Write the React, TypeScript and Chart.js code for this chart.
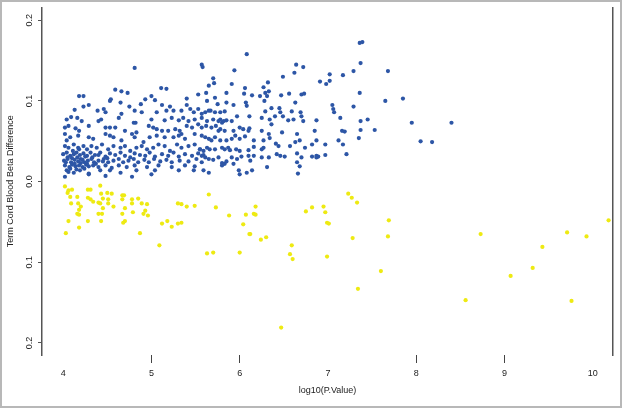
import React, { useEffect, useRef } from "react";
import { Chart, registerables } from "chart.js";

Chart.register(...registerables);

const xTicks = [4, 5, 6, 7, 8, 9, 10];
const xTicksWithMarks = [5, 6, 8, 9];
const yTicks = [-0.2, -0.1, 0, 0.1, 0.2];
const xTitle = "log10(P.Value)";
const yTitle = "Term Cord Blood Beta Difference";
const xRange = [3.76, 10.23];
const yRange = [-0.215, 0.216];

// Hypermethylated / positive beta difference (blue)
const bluePoints: [number, number][] = [
  [4.81, 0.141], [5.57, 0.145], [5.58, 0.142], [4.59, 0.114], [4.66, 0.112], [4.73, 0.110], [5.11, 0.116], [5.17, 0.115],
  [4.18, 0.106], [4.23, 0.106], [5.00, 0.106], [4.93, 0.102], [5.04, 0.101], [5.40, 0.103], [5.53, 0.108], [4.29, 0.095],
  [4.23, 0.093], [4.54, 0.102], [4.53, 0.100], [4.65, 0.098], [4.75, 0.093], [4.88, 0.096], [4.81, 0.088], [5.12, 0.095],
  [5.21, 0.093], [5.40, 0.095], [5.44, 0.090], [5.53, 0.090], [4.13, 0.089], [4.39, 0.088], [4.46, 0.090], [4.48, 0.086],
  [4.66, 0.084], [4.89, 0.086], [5.06, 0.086], [5.17, 0.088], [5.25, 0.088], [5.34, 0.088], [5.48, 0.086],
  [4.04, 0.077], [4.09, 0.080], [4.16, 0.079], [4.21, 0.075], [4.40, 0.075], [4.43, 0.077], [4.63, 0.079], [4.80, 0.073],
  [4.82, 0.073], [5.00, 0.077], [5.15, 0.076], [5.23, 0.079], [5.31, 0.076], [5.36, 0.079], [5.42, 0.075], [5.49, 0.077],
  [5.57, 0.079], [4.02, 0.067], [4.06, 0.069], [4.14, 0.066], [4.18, 0.063], [4.29, 0.069], [4.48, 0.067], [4.53, 0.067],
  [4.59, 0.067], [4.70, 0.063], [4.78, 0.059], [4.83, 0.061], [4.97, 0.069], [5.02, 0.067], [5.06, 0.065], [5.12, 0.063],
  [5.19, 0.063], [5.27, 0.065], [5.32, 0.063], [5.40, 0.069], [5.46, 0.067], [5.53, 0.071],
  [4.02, 0.059], [4.08, 0.055], [4.04, 0.051], [4.17, 0.057], [4.29, 0.055], [4.34, 0.053], [4.48, 0.059], [4.53, 0.057],
  [4.57, 0.055], [4.66, 0.051], [4.81, 0.055], [4.91, 0.049], [4.98, 0.055], [5.06, 0.057], [5.15, 0.055], [5.25, 0.055],
  [5.31, 0.057], [5.34, 0.059], [5.38, 0.053], [5.49, 0.059], [5.57, 0.057],
  [4.02, 0.044], [4.06, 0.042], [4.12, 0.046], [4.17, 0.042], [4.23, 0.044], [4.27, 0.040], [4.32, 0.044], [4.38, 0.042],
  [4.44, 0.046], [4.51, 0.040], [4.57, 0.044], [4.65, 0.042], [4.70, 0.044], [4.76, 0.038], [4.83, 0.042], [4.89, 0.044],
  [4.95, 0.040], [5.02, 0.042], [5.08, 0.046], [5.15, 0.044], [5.21, 0.038], [5.29, 0.046], [5.34, 0.042], [5.42, 0.044],
  [5.49, 0.046], [5.55, 0.040],
  [4.00, 0.034], [4.04, 0.036], [4.08, 0.032], [4.12, 0.034], [4.15, 0.036], [4.19, 0.033], [4.23, 0.035], [4.27, 0.032],
  [4.31, 0.036], [4.36, 0.033], [4.42, 0.036], [4.48, 0.031], [4.53, 0.035], [4.59, 0.033], [4.65, 0.036], [4.70, 0.032],
  [4.76, 0.030], [4.81, 0.035], [4.87, 0.033], [4.93, 0.032], [4.98, 0.036], [5.04, 0.031], [5.12, 0.034], [5.19, 0.032],
  [5.25, 0.036], [5.31, 0.031], [5.38, 0.034], [5.46, 0.032], [5.53, 0.035], [5.59, 0.033],
  [4.01, 0.026], [4.05, 0.028], [4.09, 0.024], [4.13, 0.027], [4.17, 0.025], [4.20, 0.028], [4.24, 0.024], [4.28, 0.026],
  [4.32, 0.028], [4.35, 0.024], [4.40, 0.026], [4.46, 0.028], [4.51, 0.024], [4.57, 0.026], [4.63, 0.028], [4.68, 0.024],
  [4.74, 0.026], [4.80, 0.028], [4.85, 0.024], [4.92, 0.027], [4.97, 0.024], [5.03, 0.028], [5.10, 0.025], [5.17, 0.027],
  [5.23, 0.024], [5.32, 0.026], [5.42, 0.025], [5.51, 0.028], [5.57, 0.024],
  [4.02, 0.020], [4.07, 0.018], [4.10, 0.021], [4.14, 0.019], [4.18, 0.020], [4.22, 0.018], [4.26, 0.021], [4.29, 0.019],
  [4.34, 0.020], [4.40, 0.018], [4.48, 0.020], [4.55, 0.017], [4.63, 0.020], [4.72, 0.018], [4.81, 0.020], [4.95, 0.018],
  [5.08, 0.020], [5.23, 0.018], [5.38, 0.020], [5.49, 0.019],
  [4.04, 0.014], [4.12, 0.011], [4.19, 0.014], [4.29, 0.010], [4.42, 0.014], [4.53, 0.014], [4.65, 0.011], [4.83, 0.014],
  [5.04, 0.014], [5.31, 0.014], [5.48, 0.014], [4.02, 0.006], [4.29, 0.009], [4.48, 0.007], [4.78, 0.006], [5.00, 0.009],
  [4.05, 0.030], [4.10, 0.029], [4.13, 0.022], [4.20, 0.023], [4.25, 0.031], [4.08, 0.016], [4.16, 0.030], [4.22, 0.027],
  [4.11, 0.038], [4.18, 0.040], [4.27, 0.022], [4.03, 0.024], [4.06, 0.012], [4.15, 0.015], [4.24, 0.016], [4.33, 0.030],
  [4.37, 0.022], [4.45, 0.025], [4.40, 0.033], [4.50, 0.029],
  [6.08, 0.158], [6.64, 0.145], [6.72, 0.142], [6.62, 0.135], [6.49, 0.130], [7.02, 0.133], [7.17, 0.132], [5.94, 0.138],
  [6.91, 0.124], [6.98, 0.121], [7.02, 0.125], [5.70, 0.128], [5.71, 0.122], [5.65, 0.119], [5.91, 0.121], [6.06, 0.116],
  [6.05, 0.109], [6.14, 0.107], [6.27, 0.117], [6.32, 0.123], [6.29, 0.110], [6.23, 0.106], [6.31, 0.106], [6.28, 0.100],
  [6.33, 0.112], [6.47, 0.107], [6.56, 0.109], [6.70, 0.108], [6.73, 0.109],
  [5.62, 0.110], [5.63, 0.100], [5.72, 0.104], [5.85, 0.110], [5.85, 0.098], [5.75, 0.096], [5.93, 0.095], [6.07, 0.098],
  [6.08, 0.094], [6.29, 0.087], [6.36, 0.091], [6.45, 0.091], [6.46, 0.086], [6.49, 0.081], [6.59, 0.087], [6.63, 0.098],
  [6.69, 0.086], [6.70, 0.081], [7.05, 0.095], [7.06, 0.090], [7.07, 0.086],
  [5.57, 0.084], [5.61, 0.086], [5.65, 0.088], [5.67, 0.088], [5.72, 0.086], [5.78, 0.086], [5.83, 0.087],
  [5.63, 0.075], [5.70, 0.077], [5.76, 0.075], [5.78, 0.077], [5.80, 0.073], [5.82, 0.075], [5.85, 0.076], [5.91, 0.075],
  [5.97, 0.081], [6.11, 0.081], [6.25, 0.079], [6.34, 0.077], [6.40, 0.081], [6.55, 0.076], [6.61, 0.077], [6.72, 0.075],
  [6.87, 0.076], [7.14, 0.079],
  [5.57, 0.067], [5.62, 0.069], [5.68, 0.067], [5.73, 0.069], [5.76, 0.063], [5.78, 0.065], [5.83, 0.063], [5.93, 0.063],
  [6.00, 0.067], [6.04, 0.065], [6.10, 0.063], [6.11, 0.066], [6.25, 0.063], [6.33, 0.059], [6.36, 0.071], [6.48, 0.061],
  [6.65, 0.059], [6.85, 0.063], [7.16, 0.063], [7.19, 0.062],
  [5.61, 0.055], [5.65, 0.053], [5.68, 0.051], [5.72, 0.055], [5.78, 0.051], [5.85, 0.051], [5.91, 0.053], [5.95, 0.057],
  [6.00, 0.053], [6.06, 0.056], [6.16, 0.051], [6.27, 0.051], [6.34, 0.054], [6.41, 0.047], [6.44, 0.044], [6.57, 0.044],
  [6.63, 0.049], [6.68, 0.051], [6.74, 0.042], [6.82, 0.046], [6.87, 0.051], [6.97, 0.046], [7.12, 0.051], [7.17, 0.046],
  [5.55, 0.040], [5.59, 0.038], [5.63, 0.042], [5.66, 0.040], [5.72, 0.040], [5.80, 0.042], [5.83, 0.040], [5.87, 0.042],
  [5.89, 0.039], [5.96, 0.040], [6.00, 0.038], [6.10, 0.039], [6.16, 0.043], [6.25, 0.040], [6.27, 0.042], [6.42, 0.034],
  [6.46, 0.032], [6.65, 0.035], [6.70, 0.030], [6.82, 0.031], [6.87, 0.032], [6.89, 0.031], [6.97, 0.033], [7.21, 0.034],
  [5.57, 0.032], [5.61, 0.030], [5.65, 0.028], [5.70, 0.027], [5.76, 0.030], [5.80, 0.023], [5.83, 0.022], [5.85, 0.025],
  [5.91, 0.030], [5.97, 0.028], [6.02, 0.031], [6.10, 0.032], [6.12, 0.026], [6.16, 0.032], [6.25, 0.030], [6.33, 0.030],
  [6.51, 0.031], [6.65, 0.024], [6.68, 0.019], [6.87, 0.030],
  [5.59, 0.014], [5.65, 0.011], [5.80, 0.020], [5.93, 0.022], [6.00, 0.009], [6.08, 0.011], [6.14, 0.014], [6.31, 0.018],
  [6.66, 0.010], [5.99, 0.014],
  [7.36, 0.172], [7.39, 0.173], [7.37, 0.147], [7.29, 0.137], [7.68, 0.137], [7.36, 0.110], [7.65, 0.100], [7.85, 0.103],
  [7.29, 0.093], [7.37, 0.075], [7.45, 0.077], [7.95, 0.073], [8.40, 0.073], [7.37, 0.064], [7.53, 0.064], [8.05, 0.050],
  [8.18, 0.049], [7.35, 0.054],
];

// Negative beta difference (yellow)
const yellowPoints: [number, number][] = [
  [4.02, -0.006], [4.05, -0.014], [4.06, -0.011], [4.10, -0.010], [4.08, -0.019], [4.09, -0.027], [4.06, -0.049], [4.03, -0.064],
  [4.16, -0.019], [4.17, -0.027], [4.20, -0.031], [4.18, -0.035], [4.16, -0.040], [4.18, -0.041], [4.18, -0.057], [4.28, -0.010],
  [4.31, -0.010], [4.28, -0.020], [4.31, -0.022], [4.34, -0.025], [4.40, -0.026], [4.42, -0.005], [4.43, -0.015], [4.50, -0.014],
  [4.55, -0.015], [4.45, -0.021], [4.51, -0.022], [4.51, -0.027], [4.42, -0.027], [4.45, -0.033], [4.40, -0.040], [4.44, -0.040],
  [4.28, -0.049], [4.43, -0.049], [4.57, -0.031], [4.67, -0.017], [4.69, -0.017], [4.67, -0.022], [4.78, -0.022], [4.85, -0.021],
  [4.78, -0.027], [4.89, -0.027], [4.95, -0.028], [4.70, -0.033], [4.67, -0.040], [4.79, -0.038], [4.93, -0.036], [4.91, -0.040],
  [4.96, -0.042], [4.70, -0.049], [4.68, -0.051], [4.87, -0.064], [5.12, -0.052], [5.18, -0.049], [5.23, -0.056], [5.30, -0.027],
  [5.34, -0.028], [5.40, -0.031], [5.30, -0.052], [5.34, -0.051], [5.49, -0.030], [5.09, -0.079], [5.65, -0.016], [5.73, -0.032],
  [5.63, -0.089], [5.70, -0.088], [5.88, -0.042], [6.07, -0.041], [6.04, -0.053], [6.11, -0.065], [6.00, -0.088], [6.16, -0.040],
  [6.18, -0.031], [6.18, -0.041], [6.12, -0.065], [6.24, -0.072], [6.30, -0.069], [6.59, -0.079], [6.57, -0.090], [6.60, -0.096],
  [6.75, -0.037], [6.82, -0.032], [6.95, -0.031], [6.97, -0.038], [6.99, -0.051], [7.01, -0.052], [6.99, -0.093], [7.23, -0.015],
  [7.27, -0.020], [7.33, -0.026], [7.28, -0.070], [7.69, -0.048], [7.68, -0.068], [7.60, -0.111], [7.34, -0.133], [6.47, -0.181],
  [8.73, -0.065], [8.56, -0.147], [9.07, -0.117], [9.32, -0.107], [9.43, -0.081], [9.71, -0.063], [9.93, -0.068], [10.18, -0.048],
  [9.76, -0.148],
];

const FONT = "'Liberation Sans', Arial, Helvetica, sans-serif";

const framePlugin = {
  id: "frame",
  beforeDraw(chart: any) {
    const { ctx, width, height } = chart;
    ctx.save();
    ctx.fillStyle = "#ffffff";
    ctx.fillRect(0, 0, width, height);
    ctx.restore();
  },
  afterDraw(chart: any) {
    const { ctx, width, height } = chart;
    ctx.save();
    ctx.strokeStyle = "#b8b8b8";
    ctx.lineWidth = 2;
    ctx.strokeRect(1, 1, width - 2, height - 2);
    ctx.restore();
  },
};

export default function App() {
  const ref = useRef<HTMLCanvasElement>(null);

  useEffect(() => {
    if (!ref.current) return;
    const chart = new Chart(ref.current, {
      type: "scatter",
      data: {
        datasets: [
          {
            label: "positive",
            data: bluePoints.map(([x, y]) => ({ x, y })),
            backgroundColor: "#2d56a6",
            borderWidth: 0,
            pointRadius: 2.1,
          },
          {
            label: "negative",
            data: yellowPoints.map(([x, y]) => ({ x, y })),
            backgroundColor: "#eeea12",
            borderWidth: 0,
            pointRadius: 2.1,
          },
        ],
      },
      options: {
        animation: false,
        responsive: false,
        maintainAspectRatio: false,
        devicePixelRatio: 1,
        layout: { padding: { top: 6, right: 9, left: 0, bottom: 0 } },
        plugins: {
          legend: { display: false },
          tooltip: { enabled: false },
        },
        scales: {
          x: {
            type: "linear",
            position: "bottom",
            min: xRange[0],
            max: xRange[1],
            afterBuildTicks: (s: any) => {
              s.ticks = xTicks.map((v) => ({ value: v }));
            },
            afterFit: (s: any) => {
              s.height = 53;
            },
            border: { display: false },
            grid: {
              display: true,
              drawOnChartArea: false,
              drawTicks: true,
              tickLength: 8,
              lineWidth: 1,
              color: (c: any) =>
                c.tick && xTicksWithMarks.includes(c.tick.value) ? "#444444" : "rgba(0,0,0,0)",
            },
            ticks: {
              autoSkip: false,
              maxRotation: 0,
              padding: 5,
              color: "#222222",
              font: { family: FONT, size: 9 },
              callback: (v: any) => String(v),
            },
            title: {
              display: true,
              text: xTitle,
              color: "#222222",
              font: { family: FONT, size: 9 },
              padding: { top: 0, bottom: 12.5 },
            },
          },
          y: {
            type: "linear",
            position: "left",
            min: yRange[0],
            max: yRange[1],
            afterBuildTicks: (s: any) => {
              s.ticks = yTicks.map((v) => ({ value: v }));
            },
            afterFit: (s: any) => {
              s.width = 42;
            },
            border: { display: true, color: "#555555", width: 1.5 },
            grid: {
              display: true,
              drawOnChartArea: false,
              drawTicks: true,
              tickLength: 4,
              color: "#555555",
              lineWidth: 1,
            },
            ticks: {
              minRotation: 90,
              maxRotation: 90,
              crossAlign: "center",
              padding: 2,
              color: "#222222",
              font: { family: FONT, size: 9 },
              callback: (v: any) => Math.abs(Number(v)).toFixed(1),
            },
            title: {
              display: true,
              text: yTitle,
              color: "#222222",
              font: { family: FONT, size: 9 },
              padding: { top: 5, bottom: 0 },
            },
          },
          y2: {
            type: "linear",
            position: "right",
            min: yRange[0],
            max: yRange[1],
            afterFit: (s: any) => {
              s.width = 0;
            },
            border: { display: true, color: "#555555", width: 1.5 },
            grid: { display: false, drawOnChartArea: false, drawTicks: false },
            ticks: { display: false },
          },
        },
      } as any,
      plugins: [framePlugin],
    });
    return () => chart.destroy();
  }, []);

  return (
    <div style={{ position: "fixed", left: 0, top: 0, width: 622, height: 408, background: "#fff" }}>
      <canvas ref={ref} width={622} height={408} style={{ display: "block", width: 622, height: 408 }} />
    </div>
  );
}
